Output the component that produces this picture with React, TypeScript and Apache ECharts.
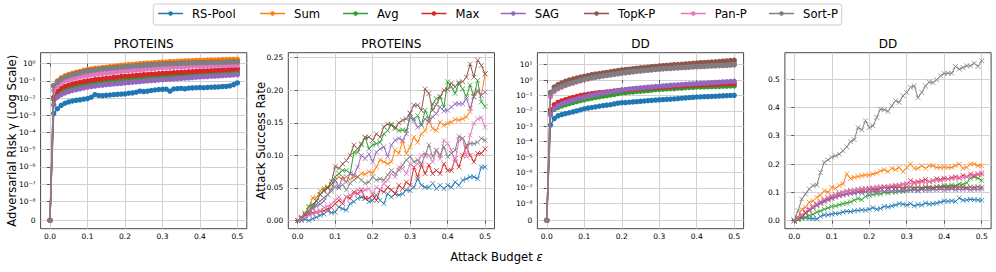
import React, { useEffect, useRef } from "react";
import * as echarts from "echarts";

const FONT = "DejaVu Sans";

const methods = ["RS-Pool", "Sum", "Avg", "Max", "SAG", "TopK-P", "Pan-P", "Sort-P"];
const colors = ["#1f77b4", "#ff7f0e", "#2ca02c", "#d62728", "#9467bd", "#8c564b", "#e377c2", "#7f7f7f"];

// attack budget ε
const budgets = [
  0, 0.01, 0.02, 0.03, 0.04, 0.05, 0.06, 0.07, 0.08, 0.09, 0.1,
  0.11, 0.12, 0.13, 0.14, 0.15, 0.16, 0.17, 0.18, 0.19, 0.2,
  0.21, 0.22, 0.23, 0.24, 0.25, 0.26, 0.27, 0.28, 0.29, 0.3,
  0.31, 0.32, 0.33, 0.34, 0.35, 0.36, 0.37, 0.38, 0.39, 0.4,
  0.41, 0.42, 0.43, 0.44, 0.45, 0.46, 0.47, 0.48, 0.49, 0.5,
];
const budgetTicks = [0, 0.1, 0.2, 0.3, 0.4, 0.5];

const Z = -Infinity; // log10(0): the risk is 0 at ε = 0

// ---------- PROTEINS: log10 of adversarial risk γ ----------
const proteinsRiskRsPool = [Z, -2.9, -2.62, -2.42, -2.3, -2.22, -2.17, -2.13, -2.1, -2.06, -2.03, -1.95, -1.8, -1.85, -1.86, -1.84, -1.82, -1.8, -1.78, -1.77, -1.76, -1.72, -1.7, -1.66, -1.6, -1.62, -1.6, -1.56, -1.53, -1.5, -1.49, -1.48, -1.6, -1.47, -1.45, -1.44, -1.46, -1.42, -1.41, -1.4, -1.39, -1.4, -1.38, -1.37, -1.36, -1.35, -1.33, -1.32, -1.29, -1.22, -1.12];
const proteinsRiskSum = [Z, -1.3, -1.0, -0.82, -0.7, -0.62, -0.55, -0.5, -0.45, -0.38, -0.34, -0.3, -0.27, -0.25, -0.22, -0.2, -0.17, -0.15, -0.12, -0.09, -0.07, -0.05, -0.04, -0.02, 0.0, 0.02, 0.03, 0.04, 0.06, 0.08, 0.1, 0.1, 0.12, 0.13, 0.14, 0.15, 0.16, 0.17, 0.18, 0.19, 0.2, 0.2, 0.21, 0.22, 0.22, 0.23, 0.24, 0.24, 0.25, 0.25, 0.26];
const proteinsRiskAvg = [Z, -2.1, -1.75, -1.58, -1.48, -1.4, -1.35, -1.31, -1.27, -1.23, -1.2, -1.17, -1.13, -1.1, -1.08, -1.06, -1.04, -1.01, -0.99, -0.97, -0.95, -0.93, -0.91, -0.89, -0.87, -0.82, -0.85, -0.83, -0.82, -0.8, -0.79, -0.77, -0.76, -0.74, -0.73, -0.71, -0.7, -0.69, -0.67, -0.65, -0.63, -0.62, -0.61, -0.59, -0.58, -0.56, -0.55, -0.53, -0.52, -0.5, -0.48];
const proteinsRiskMax = [Z, -1.95, -1.6, -1.42, -1.32, -1.24, -1.18, -1.13, -1.08, -1.04, -1.0, -0.97, -0.93, -0.9, -0.88, -0.85, -0.83, -0.8, -0.78, -0.75, -0.73, -0.72, -0.7, -0.68, -0.66, -0.64, -0.63, -0.61, -0.6, -0.58, -0.56, -0.55, -0.54, -0.52, -0.51, -0.5, -0.49, -0.47, -0.46, -0.45, -0.43, -0.42, -0.41, -0.4, -0.38, -0.37, -0.36, -0.34, -0.33, -0.31, -0.29];
const proteinsRiskSag = [Z, -2.4, -1.95, -1.8, -1.7, -1.62, -1.56, -1.51, -1.46, -1.41, -1.37, -1.33, -1.3, -1.27, -1.25, -1.22, -1.2, -1.18, -1.16, -1.14, -1.12, -1.1, -1.08, -1.06, -1.04, -1.02, -1.0, -0.98, -0.97, -0.95, -0.93, -0.92, -0.9, -0.89, -0.87, -0.86, -0.84, -0.83, -0.81, -0.79, -0.77, -0.76, -0.75, -0.73, -0.72, -0.71, -0.69, -0.68, -0.67, -0.65, -0.64];
const proteinsRiskTopK = [Z, -1.3, -1.05, -0.9, -0.79, -0.7, -0.64, -0.58, -0.52, -0.46, -0.42, -0.39, -0.36, -0.33, -0.3, -0.28, -0.26, -0.24, -0.21, -0.19, -0.18, -0.16, -0.14, -0.12, -0.1, -0.09, -0.07, -0.06, -0.04, -0.03, -0.02, -0.01, 0.0, 0.01, 0.02, 0.03, 0.04, 0.04, 0.05, 0.06, 0.06, 0.07, 0.07, 0.08, 0.08, 0.09, 0.09, 0.1, 0.1, 0.11, 0.11];
const proteinsRiskPan = [Z, -1.55, -1.3, -1.12, -1.0, -0.93, -0.87, -0.82, -0.77, -0.72, -0.68, -0.65, -0.62, -0.6, -0.57, -0.55, -0.52, -0.5, -0.47, -0.45, -0.43, -0.41, -0.39, -0.37, -0.35, -0.33, -0.31, -0.29, -0.27, -0.25, -0.23, -0.22, -0.21, -0.2, -0.19, -0.18, -0.17, -0.16, -0.15, -0.14, -0.14, -0.13, -0.12, -0.12, -0.11, -0.11, -0.1, -0.1, -0.09, -0.09, -0.08];
const proteinsRiskSort = [Z, -1.26, -1.08, -0.92, -0.8, -0.72, -0.65, -0.6, -0.54, -0.47, -0.43, -0.4, -0.37, -0.34, -0.32, -0.29, -0.27, -0.25, -0.23, -0.2, -0.19, -0.17, -0.15, -0.13, -0.11, -0.1, -0.08, -0.07, -0.05, -0.04, -0.03, -0.02, -0.01, 0.0, 0.01, 0.02, 0.03, 0.03, 0.04, 0.05, 0.05, 0.06, 0.06, 0.07, 0.07, 0.08, 0.08, 0.09, 0.09, 0.1, 0.1];

// ---------- PROTEINS: attack success rate ----------
const proteinsAsrRsPool = [0, 0.0, 0.002, 0.0, 0.003, 0.005, 0.008, 0.01, 0.015, 0.012, 0.013, 0.021, 0.018, 0.016, 0.026, 0.029, 0.034, 0.036, 0.034, 0.029, 0.031, 0.039, 0.031, 0.026, 0.041, 0.036, 0.041, 0.039, 0.041, 0.047, 0.046, 0.051, 0.064, 0.054, 0.051, 0.051, 0.057, 0.049, 0.054, 0.049, 0.054, 0.051, 0.059, 0.054, 0.062, 0.064, 0.067, 0.067, 0.064, 0.082, 0.082];
const proteinsAsrSum = [0, 0.005, 0.012, 0.02, 0.035, 0.035, 0.045, 0.05, 0.052, 0.055, 0.062, 0.067, 0.063, 0.067, 0.063, 0.067, 0.067, 0.072, 0.071, 0.075, 0.073, 0.082, 0.093, 0.09, 0.087, 0.09, 0.108, 0.103, 0.122, 0.103, 0.113, 0.128, 0.12, 0.133, 0.138, 0.154, 0.141, 0.138, 0.151, 0.146, 0.149, 0.151, 0.155, 0.154, 0.156, 0.159, 0.167, 0.195, 0.197, 0.192, 0.225];
const proteinsAsrAvg = [0, 0.005, 0.01, 0.022, 0.025, 0.03, 0.04, 0.045, 0.05, 0.055, 0.067, 0.072, 0.077, 0.077, 0.072, 0.105, 0.105, 0.116, 0.128, 0.11, 0.116, 0.118, 0.12, 0.133, 0.138, 0.148, 0.143, 0.138, 0.139, 0.138, 0.158, 0.156, 0.161, 0.146, 0.169, 0.156, 0.179, 0.187, 0.19, 0.174, 0.213, 0.205, 0.195, 0.21, 0.202, 0.19, 0.208, 0.19, 0.215, 0.182, 0.175];
const proteinsAsrMax = [0, 0.003, 0.008, 0.01, 0.012, 0.013, 0.014, 0.015, 0.018, 0.02, 0.026, 0.031, 0.026, 0.036, 0.034, 0.044, 0.041, 0.047, 0.034, 0.034, 0.039, 0.031, 0.047, 0.044, 0.051, 0.047, 0.041, 0.054, 0.049, 0.059, 0.054, 0.082, 0.067, 0.085, 0.072, 0.085, 0.072, 0.077, 0.072, 0.087, 0.077, 0.077, 0.095, 0.082, 0.1, 0.113, 0.1, 0.09, 0.103, 0.103, 0.11];
const proteinsAsrSag = [0, 0.005, 0.008, 0.012, 0.018, 0.022, 0.025, 0.03, 0.04, 0.048, 0.062, 0.052, 0.067, 0.059, 0.072, 0.07, 0.082, 0.1, 0.095, 0.102, 0.09, 0.105, 0.11, 0.113, 0.098, 0.116, 0.123, 0.126, 0.123, 0.133, 0.164, 0.153, 0.143, 0.148, 0.156, 0.151, 0.159, 0.164, 0.174, 0.168, 0.169, 0.174, 0.179, 0.179, 0.179, 0.187, 0.172, 0.19, 0.2, 0.192, 0.197];
const proteinsAsrTopK = [0, 0.003, 0.008, 0.015, 0.022, 0.03, 0.04, 0.047, 0.05, 0.06, 0.083, 0.08, 0.087, 0.092, 0.1, 0.116, 0.11, 0.118, 0.127, 0.128, 0.123, 0.133, 0.128, 0.144, 0.148, 0.146, 0.141, 0.15, 0.154, 0.156, 0.165, 0.177, 0.177, 0.169, 0.202, 0.195, 0.169, 0.178, 0.19, 0.2, 0.201, 0.211, 0.205, 0.212, 0.213, 0.22, 0.24, 0.22, 0.246, 0.238, 0.225];
const proteinsAsrPan = [0, 0.002, 0.005, 0.008, 0.01, 0.012, 0.015, 0.02, 0.022, 0.025, 0.031, 0.036, 0.029, 0.036, 0.039, 0.041, 0.047, 0.044, 0.047, 0.049, 0.041, 0.051, 0.047, 0.057, 0.062, 0.072, 0.067, 0.082, 0.08, 0.072, 0.087, 0.082, 0.087, 0.1, 0.103, 0.1, 0.09, 0.108, 0.095, 0.123, 0.118, 0.108, 0.09, 0.123, 0.126, 0.098, 0.131, 0.149, 0.156, 0.158, 0.143];
const proteinsAsrSort = [0, 0.005, 0.01, 0.015, 0.02, 0.025, 0.03, 0.035, 0.04, 0.045, 0.052, 0.05, 0.055, 0.047, 0.057, 0.062, 0.067, 0.062, 0.057, 0.059, 0.067, 0.062, 0.064, 0.062, 0.07, 0.077, 0.072, 0.077, 0.085, 0.093, 0.098, 0.09, 0.093, 0.087, 0.1, 0.116, 0.098, 0.108, 0.1, 0.113, 0.098, 0.103, 0.108, 0.129, 0.126, 0.116, 0.118, 0.118, 0.12, 0.126, 0.123];

// ---------- DD: log10 of adversarial risk γ ----------
const ddRiskRsPool = [Z, -2.92, -2.5, -2.32, -2.24, -2.18, -2.12, -2.06, -2.0, -1.93, -1.86, -1.82, -1.78, -1.74, -1.7, -1.66, -1.63, -1.6, -1.55, -1.5, -1.47, -1.46, -1.44, -1.42, -1.4, -1.38, -1.36, -1.34, -1.32, -1.3, -1.28, -1.27, -1.25, -1.24, -1.22, -1.2, -1.18, -1.16, -1.14, -1.12, -1.1, -1.09, -1.08, -1.07, -1.06, -1.05, -1.04, -1.02, -1.01, -1.0, -0.99];
const ddRiskSum = [Z, -0.95, -0.6, -0.42, -0.3, -0.2, -0.12, -0.05, 0.02, 0.08, 0.13, 0.18, 0.23, 0.27, 0.31, 0.35, 0.38, 0.42, 0.45, 0.49, 0.52, 0.55, 0.58, 0.6, 0.63, 0.66, 0.68, 0.7, 0.73, 0.75, 0.77, 0.79, 0.81, 0.83, 0.85, 0.87, 0.89, 0.9, 0.92, 0.94, 0.96, 0.98, 0.99, 1.01, 1.02, 1.04, 1.06, 1.07, 1.09, 1.11, 1.13];
const ddRiskAvg = [Z, -2.1, -1.9, -1.78, -1.68, -1.6, -1.53, -1.46, -1.4, -1.33, -1.28, -1.23, -1.18, -1.13, -1.09, -1.05, -1.01, -0.97, -0.93, -0.88, -0.84, -0.82, -0.79, -0.77, -0.74, -0.72, -0.7, -0.68, -0.65, -0.62, -0.6, -0.59, -0.57, -0.56, -0.55, -0.53, -0.52, -0.5, -0.48, -0.47, -0.45, -0.45, -0.44, -0.43, -0.42, -0.41, -0.41, -0.4, -0.39, -0.38, -0.38];
const ddRiskMax = [Z, -1.94, -1.6, -1.45, -1.35, -1.27, -1.2, -1.13, -1.07, -1.0, -0.96, -0.92, -0.88, -0.85, -0.82, -0.8, -0.77, -0.74, -0.71, -0.69, -0.66, -0.64, -0.62, -0.6, -0.58, -0.56, -0.54, -0.52, -0.5, -0.48, -0.47, -0.45, -0.44, -0.42, -0.41, -0.4, -0.38, -0.37, -0.35, -0.34, -0.32, -0.31, -0.3, -0.29, -0.28, -0.27, -0.26, -0.25, -0.24, -0.24, -0.23];
const ddRiskSag = [Z, -2.27, -1.85, -1.66, -1.54, -1.45, -1.37, -1.3, -1.23, -1.16, -1.1, -1.04, -0.99, -0.94, -0.89, -0.85, -0.81, -0.77, -0.72, -0.68, -0.64, -0.61, -0.58, -0.56, -0.53, -0.51, -0.49, -0.46, -0.44, -0.42, -0.4, -0.38, -0.36, -0.34, -0.32, -0.31, -0.29, -0.27, -0.26, -0.24, -0.23, -0.21, -0.2, -0.18, -0.17, -0.15, -0.14, -0.12, -0.11, -0.09, -0.08];
const ddRiskTopK = [Z, -0.8, -0.45, -0.3, -0.18, -0.08, 0.0, 0.07, 0.13, 0.2, 0.25, 0.3, 0.35, 0.39, 0.43, 0.47, 0.5, 0.54, 0.58, 0.62, 0.66, 0.69, 0.71, 0.74, 0.77, 0.8, 0.82, 0.84, 0.87, 0.89, 0.92, 0.94, 0.96, 0.98, 1.0, 1.01, 1.03, 1.05, 1.07, 1.09, 1.11, 1.13, 1.14, 1.16, 1.17, 1.19, 1.21, 1.23, 1.25, 1.27, 1.29];
const ddRiskPan = [Z, -1.08, -0.75, -0.58, -0.46, -0.36, -0.27, -0.2, -0.12, -0.05, 0.02, 0.07, 0.12, 0.17, 0.21, 0.25, 0.29, 0.33, 0.37, 0.4, 0.44, 0.47, 0.5, 0.53, 0.56, 0.58, 0.61, 0.63, 0.66, 0.68, 0.7, 0.72, 0.74, 0.75, 0.77, 0.79, 0.8, 0.81, 0.83, 0.85, 0.86, 0.87, 0.88, 0.9, 0.91, 0.92, 0.93, 0.94, 0.95, 0.97, 0.98];
const ddRiskSort = [Z, -0.86, -0.64, -0.5, -0.4, -0.31, -0.23, -0.16, -0.09, -0.02, 0.05, 0.1, 0.15, 0.2, 0.24, 0.28, 0.32, 0.35, 0.39, 0.43, 0.46, 0.49, 0.52, 0.55, 0.58, 0.6, 0.63, 0.65, 0.68, 0.7, 0.72, 0.74, 0.76, 0.77, 0.79, 0.8, 0.82, 0.83, 0.85, 0.87, 0.88, 0.89, 0.9, 0.92, 0.93, 0.94, 0.95, 0.96, 0.97, 0.99, 1.0];

// ---------- DD: attack success rate ----------
const ddAsrRsPool = [0, 0.005, 0.01, 0.01, 0.008, 0.007, 0.006, 0.015, 0.02, 0.02, 0.023, 0.025, 0.026, 0.03, 0.033, 0.032, 0.035, 0.036, 0.038, 0.037, 0.04, 0.046, 0.04, 0.043, 0.05, 0.048, 0.052, 0.055, 0.06, 0.058, 0.055, 0.06, 0.052, 0.057, 0.055, 0.062, 0.058, 0.06, 0.062, 0.065, 0.07, 0.068, 0.07, 0.068, 0.08, 0.072, 0.073, 0.075, 0.074, 0.073, 0.072];
const ddAsrSum = [0, 0.012, 0.04, 0.047, 0.065, 0.07, 0.082, 0.09, 0.106, 0.1, 0.118, 0.114, 0.124, 0.13, 0.165, 0.149, 0.153, 0.156, 0.159, 0.161, 0.161, 0.165, 0.168, 0.176, 0.18, 0.173, 0.185, 0.18, 0.188, 0.173, 0.188, 0.2, 0.185, 0.185, 0.194, 0.185, 0.194, 0.194, 0.188, 0.188, 0.19, 0.188, 0.188, 0.194, 0.2, 0.185, 0.188, 0.2, 0.2, 0.194, 0.194];
const ddAsrAvg = [0, 0.003, 0.008, 0.012, 0.018, 0.022, 0.03, 0.034, 0.04, 0.045, 0.05, 0.052, 0.056, 0.06, 0.062, 0.066, 0.072, 0.078, 0.074, 0.085, 0.09, 0.092, 0.095, 0.094, 0.1, 0.098, 0.102, 0.1, 0.104, 0.103, 0.106, 0.108, 0.11, 0.107, 0.112, 0.118, 0.114, 0.116, 0.12, 0.118, 0.124, 0.122, 0.126, 0.123, 0.13, 0.128, 0.134, 0.15, 0.155, 0.15, 0.142];
const ddAsrMax = [0, 0.008, 0.015, 0.025, 0.035, 0.045, 0.055, 0.062, 0.07, 0.075, 0.08, 0.085, 0.09, 0.092, 0.095, 0.097, 0.1, 0.102, 0.105, 0.103, 0.11, 0.112, 0.108, 0.115, 0.118, 0.115, 0.12, 0.122, 0.125, 0.128, 0.13, 0.142, 0.135, 0.138, 0.14, 0.145, 0.138, 0.142, 0.148, 0.145, 0.15, 0.147, 0.152, 0.155, 0.15, 0.16, 0.155, 0.165, 0.158, 0.163, 0.165];
const ddAsrSag = [0, 0.008, 0.018, 0.028, 0.037, 0.045, 0.053, 0.06, 0.066, 0.072, 0.078, 0.083, 0.087, 0.09, 0.093, 0.095, 0.097, 0.1, 0.098, 0.102, 0.1, 0.104, 0.101, 0.105, 0.103, 0.106, 0.104, 0.107, 0.105, 0.108, 0.106, 0.107, 0.109, 0.106, 0.11, 0.108, 0.107, 0.11, 0.109, 0.111, 0.108, 0.11, 0.112, 0.109, 0.111, 0.11, 0.112, 0.109, 0.111, 0.11, 0.112];
const ddAsrTopK = [0, 0.01, 0.02, 0.03, 0.04, 0.05, 0.058, 0.066, 0.073, 0.08, 0.086, 0.092, 0.097, 0.1, 0.104, 0.107, 0.108, 0.11, 0.112, 0.112, 0.113, 0.115, 0.114, 0.116, 0.117, 0.115, 0.118, 0.117, 0.118, 0.116, 0.118, 0.119, 0.117, 0.118, 0.116, 0.118, 0.119, 0.117, 0.118, 0.12, 0.118, 0.117, 0.119, 0.118, 0.12, 0.118, 0.117, 0.119, 0.118, 0.12, 0.118];
const ddAsrPan = [0, 0.01, 0.02, 0.032, 0.042, 0.05, 0.06, 0.068, 0.075, 0.082, 0.088, 0.092, 0.097, 0.1, 0.103, 0.106, 0.108, 0.11, 0.112, 0.113, 0.115, 0.117, 0.119, 0.12, 0.121, 0.122, 0.124, 0.126, 0.125, 0.128, 0.13, 0.132, 0.131, 0.134, 0.136, 0.135, 0.138, 0.14, 0.142, 0.141, 0.145, 0.147, 0.148, 0.15, 0.153, 0.152, 0.156, 0.158, 0.162, 0.166, 0.17];
const ddAsrSort = [0, 0.035, 0.076, 0.094, 0.112, 0.124, 0.126, 0.17, 0.206, 0.215, 0.224, 0.229, 0.235, 0.247, 0.261, 0.279, 0.286, 0.329, 0.321, 0.353, 0.329, 0.335, 0.365, 0.394, 0.392, 0.386, 0.406, 0.424, 0.418, 0.441, 0.453, 0.471, 0.476, 0.435, 0.453, 0.476, 0.49, 0.488, 0.498, 0.512, 0.52, 0.521, 0.521, 0.545, 0.535, 0.541, 0.547, 0.547, 0.556, 0.545, 0.565];

// tick values
const SYMLOG_ZERO = -9.111; // where 0 sits on the symlog axis (linthresh 1e-8)
const proteinsRiskTicks = [SYMLOG_ZERO, -8, -7, -6, -5, -4, -3, -2, -1, 0];
const ddRiskTicks = [SYMLOG_ZERO, -8, -7, -6, -5, -4, -3, -2, -1, 0, 1];
const proteinsAsrTicks = [0, 0.05, 0.1, 0.15, 0.2, 0.25];
const ddAsrTicks = [0, 0.1, 0.2, 0.3, 0.4, 0.5];

const titles = ["PROTEINS", "PROTEINS", "DD", "DD"];

const SUP: Record<string, string> = {
  "0": "⁰", "1": "¹", "2": "²", "3": "³", "4": "⁴", "5": "⁵", "6": "⁶", "7": "⁷", "8": "⁸", "9": "⁹", "-": "⁻",
};
const sup = (n: number) => String(n).split("").map((c) => SUP[c] || c).join("");
const symlog = (e: number) => (Number.isFinite(e) ? e : SYMLOG_ZERO);

export default function App() {
  const ref = useRef<HTMLDivElement>(null);
  useEffect(() => {
    if (!ref.current) return;
    const chart = echarts.init(ref.current, undefined, { renderer: "svg" });

    const panels = [
      { log: true, data: [proteinsRiskRsPool, proteinsRiskSum, proteinsRiskAvg, proteinsRiskMax, proteinsRiskSag, proteinsRiskTopK, proteinsRiskPan, proteinsRiskSort], min: -9.6, max: 0.64, ticks: proteinsRiskTicks, digits: 0, left: 40.6 },
      { log: false, data: [proteinsAsrRsPool, proteinsAsrSum, proteinsAsrAvg, proteinsAsrMax, proteinsAsrSag, proteinsAsrTopK, proteinsAsrPan, proteinsAsrSort], min: -0.0125, max: 0.2575, ticks: proteinsAsrTicks, digits: 2, left: 288.3 },
      { log: true, data: [ddRiskRsPool, ddRiskSum, ddRiskAvg, ddRiskMax, ddRiskSag, ddRiskTopK, ddRiskPan, ddRiskSort], min: -9.657, max: 1.78, ticks: ddRiskTicks, digits: 0, left: 537.4 },
      { log: false, data: [ddAsrRsPool, ddAsrSum, ddAsrAvg, ddAsrMax, ddAsrSag, ddAsrTopK, ddAsrPan, ddAsrSort], min: -0.0285, max: 0.5935, ticks: ddAsrTicks, digits: 1, left: 784.9 },
    ];

    const TOP = 52.7, H = 176, W = 206.2;
    const axisColor = "#333333";
    const gridColor = "#d2d2d2";
    const tickLabel = { fontSize: 7.5, fontFamily: FONT, color: "#000" };

    const grid = panels.map((p) => ({
      left: p.left, top: TOP, width: W, height: H, show: true, borderColor: axisColor, borderWidth: 0.9, containLabel: false,
    }));

    const xAxis = panels.map((_, i) => ({
      type: "value", gridIndex: i, min: -0.025, max: 0.525,
      axisLine: { show: false },
      axisTick: { show: true, length: 3, customValues: budgetTicks, lineStyle: { color: axisColor, width: 0.8 } },
      axisLabel: { ...tickLabel, margin: 4, customValues: budgetTicks, formatter: (v: number) => v.toFixed(1) },
      splitLine: { show: true, lineStyle: { color: gridColor, width: 1 } },
    }));

    const yAxis = panels.map((p, i) => ({
      type: "value", gridIndex: i, min: p.min, max: p.max,
      axisLine: { show: false },
      axisTick: { show: true, length: 3, customValues: p.ticks, lineStyle: { color: axisColor, width: 0.8 } },
      axisLabel: {
        ...tickLabel, margin: 5, customValues: p.ticks,
        formatter: (v: number) => (p.log ? (v < -8.5 ? "0" : "10" + sup(Math.round(v))) : v.toFixed(p.digits)),
      },
      splitLine: { show: true, lineStyle: { color: gridColor, width: 1 } },
    }));

    const series: any[] = [];
    panels.forEach((p, pi) => {
      p.data.forEach((vals, mi) => {
        const c = colors[mi];
        series.push({
          type: "line", name: methods[mi], xAxisIndex: pi, yAxisIndex: pi,
          data: budgets.map((b, k) => [b, p.log ? symlog(vals[k]) : vals[k]]),
          showSymbol: true, showAllSymbol: true,
          symbol: p.log ? "circle" : "path://M0 0L10 10M10 0L0 10",
          symbolSize: p.log ? 5.4 : 4.8,
          lineStyle: { color: c, width: p.log ? 1.3 : 1 },
          itemStyle: p.log ? { color: c } : { color: "none", borderColor: c, borderWidth: 0.8 },
          emphasis: { disabled: true },
          silent: true,
          z: 2 + mi,
        });
      });
    });

    const legendLefts = [157.3, 259.3, 342.3, 420.7, 500, 583.3, 680, 768.3];
    const legend = methods.map((m, i) => ({
      data: [m], left: legendLefts[i], top: 7.5, padding: 0,
      itemWidth: 25, itemHeight: 5.5, selectedMode: false,
      lineStyle: { width: 1.5 },
      textStyle: { fontSize: 11.6, fontFamily: FONT, color: "#000", padding: [0, 0, 0, 4] },
    }));

    const graphic: any[] = [
      { type: "rect", z: -1, shape: { x: 153.3, y: 4, width: 688.4, height: 21, r: 2.5 }, style: { fill: "#fff", stroke: "#cccccc", lineWidth: 1 } },
      ...titles.map((t, i) => ({
        type: "text", x: panels[i].left + W / 2, y: 44.3,
        style: { text: t, fontSize: 12, fontFamily: FONT, fill: "#000", align: "center", verticalAlign: "middle" },
      })),
      { type: "text", x: 12, y: TOP + H / 2, rotation: Math.PI / 2,
        style: { text: "Adversarial Risk γ (Log Scale)", fontSize: 11.6, fontFamily: FONT, fill: "#000", align: "center", verticalAlign: "middle" } },
      { type: "text", x: 261, y: TOP + H / 2, rotation: Math.PI / 2,
        style: { text: "Attack Success Rate", fontSize: 11.6, fontFamily: FONT, fill: "#000", align: "center", verticalAlign: "middle" } },
      { type: "text", x: 496.5, y: 257,
        style: {
          text: "{a|Attack Budget }{b|ε}", align: "center", verticalAlign: "middle",
          rich: {
            a: { fontSize: 11.6, fontFamily: FONT, fill: "#000" },
            b: { fontSize: 11.6, fontFamily: FONT, fill: "#000", fontStyle: "italic" },
          },
        } },
    ];

    chart.setOption({
      animation: false,
      backgroundColor: "#fff",
      grid, xAxis, yAxis, series, legend, graphic,
    } as any);

    return () => chart.dispose();
  }, []);

  return <div ref={ref} style={{ position: "fixed", left: 0, top: 0, width: 996, height: 272 }} />;
}
